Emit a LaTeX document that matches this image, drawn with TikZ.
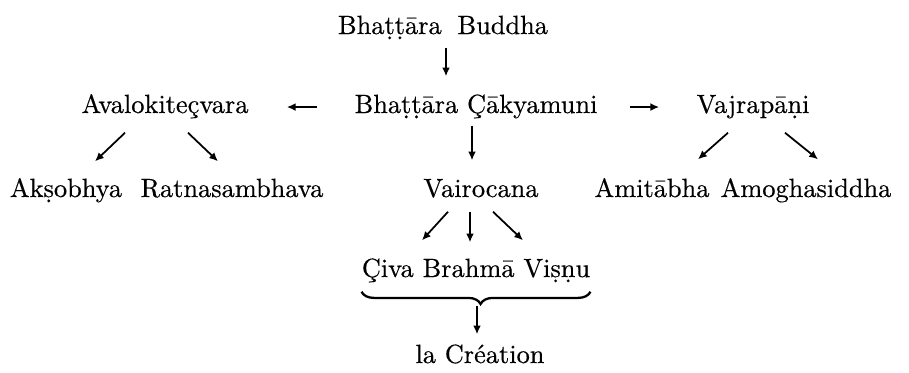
\documentclass[tikz,border=0pt]{standalone}
\usepackage{fontspec}
\setmainfont{lmroman10-regular.otf}[FakeBold=0.4]
\usetikzlibrary{arrows.meta,decorations.pathreplacing}
\tikzset{
  lbl/.style={font=\fontsize{15}{18}\selectfont, inner sep=0pt, text height=11pt, text depth=2.5pt, anchor=base},
  arr/.style={line width=1pt, -{Latex[length=5pt,width=4.5pt]}},
  brc/.style={line width=1.3pt, decorate, decoration={brace, amplitude=7pt, aspect=0.48}}
}
\begin{document}
\begin{tikzpicture}[x=0.02cm,y=-0.02cm]
\fill[white] (0,0) rectangle (909,372);
\useasboundingbox (0,0) rectangle (909,372);
% nodes
\node[lbl] (buddha) at (443,34) {Bhaṭṭāra\hspace{0.6em}Buddha};
\node[lbl] (cak) at (476,113) {Bhaṭṭāra Çākyamuni};
\node[lbl] (aval) at (165,113) {Avalokiteçvara};
\node[lbl] (vajra) at (753,113) {Vajrapāṇi};
\node[lbl] (akso) at (66,197) {Akṣobhya};
\node[lbl] (ratna) at (232,197) {Ratnasambhava};
\node[lbl] (vairo) at (481,197) {Vairocana};
\node[lbl] (amit) at (652,197) {Amitābha};
\node[lbl] (amog) at (806,197) {Amoghasiddha};
\node[lbl] (trio) at (476,277) {Çiva Brahmā Viṣṇu};
\node[lbl] (crea) at (480,363) {la Création};
% arrows
\draw[arr] ([shift={(3,9)}]buddha.south) -- ([shift={(-30,-17)}]cak.north);
\draw[arr] ([shift={(-37,1.5)}]cak.west) -- ([shift={(38,1.5)}]aval.east);
\draw[arr] ([shift={(32,1.5)}]cak.east) -- ([shift={(-37,1.5)}]vajra.west);
\draw[arr] ([shift={(-4,8)}]cak.south) -- ([shift={(-9,-17)}]vairo.north);
\draw[arr] ([shift={(-40,15)}]aval.south) -- ([shift={(29,-16)}]akso.north);
\draw[arr] ([shift={(23,15)}]aval.south) -- ([shift={(-14,-16)}]ratna.north);
\draw[arr] ([shift={(-25,15)}]vajra.south) -- ([shift={(46,-18)}]amit.north);
\draw[arr] ([shift={(32,15)}]vajra.south) -- ([shift={(12,-18)}]amog.north);
\draw[arr] ([shift={(-33,10)}]vairo.south) -- ([shift={(-54,-17)}]trio.north);
\draw[arr] ([shift={(-11,10)}]vairo.south) -- ([shift={(-6,-15)}]trio.north);
\draw[arr] ([shift={(12,10)}]vairo.south) -- ([shift={(47,-17)}]trio.north);
\draw[brc] ([shift={(0,10)}]trio.south east) -- ([shift={(0,10)}]trio.south west);
\draw[arr] ([shift={(1,24)}]trio.south) -- ([shift={(-3,-9)}]crea.north);
\end{tikzpicture}
\end{document}
